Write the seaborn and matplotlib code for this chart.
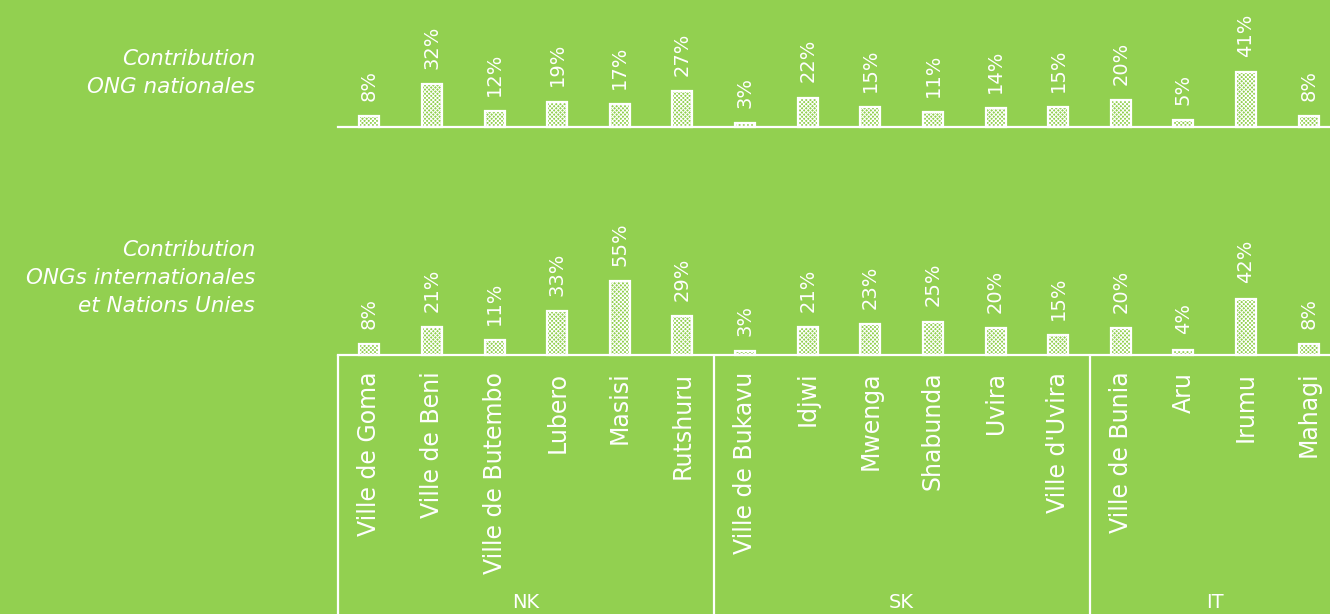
import pandas as pd
import seaborn as sns
import matplotlib.pyplot as plt

# Data
districts = ['Ville de Goma', 'Ville de Beni', 'Ville de Butembo', 'Lubero', 'Masisi', 'Rutshuru',
             'Ville de Bukavu', 'Idjwi', 'Mwenga', 'Shabunda', 'Uvira', "Ville d'Uvira",
             'Ville de Bunia', 'Aru', 'Irumu', 'Mahagi']
provinces = ['NK'] * 6 + ['SK'] * 6 + ['IT'] * 4
ong_nationales = [8, 32, 12, 19, 17, 27, 3, 22, 15, 11, 14, 15, 20, 5, 41, 8]
ong_internationales = [8, 21, 11, 33, 55, 29, 3, 21, 23, 25, 20, 15, 20, 4, 42, 8]
row_titles = ['Contribution\nONG nationales',
              'Contribution\nONGs internationales\net Nations Unies']

df = pd.DataFrame({'district': districts, 'province': provinces,
                   'nat': ong_nationales, 'intl': ong_internationales})

green = '#92D050'
W, H = 1330, 614
px_per_unit = 1.34

sns.set_theme(style='white')
plt.rcParams['font.family'] = ['DejaVu Sans']
plt.rcParams['hatch.linewidth'] = 0.7

fig = plt.figure(figsize=(W / 100, H / 100), dpi=100, facecolor=green)

# axes geometry in pixels
x0, x1 = 338, 1340


def make_axes(bottom_px, top_px, base_px):
    ax = fig.add_axes([x0 / W, bottom_px / H, (x1 - x0) / W, (top_px - bottom_px) / H])
    ax.set_facecolor('none')
    ax.set_ylim(-(base_px - bottom_px) / px_per_unit, (top_px - base_px) / px_per_unit)
    return ax


def draw_bars(ax, col):
    sns.barplot(data=df, x='district', y=col, ax=ax, color=green, saturation=1,
                edgecolor='white', linewidth=1.6, width=0.32, hatch='xxxxxxxx')
    for p in ax.patches:
        p.set_facecolor(green)
    ax.bar_label(ax.containers[0], labels=[f'{v}%' for v in df[col]], padding=11,
                 rotation=90, color='white', fontsize=14)
    ax.set_xlim(-0.5, len(districts) - 0.5)
    for s in ['top', 'left', 'right']:
        ax.spines[s].set_visible(False)
    ax.spines['bottom'].set_position(('data', 0))
    ax.spines['bottom'].set_color('white')
    ax.spines['bottom'].set_linewidth(1.6)
    ax.set_yticks([])
    ax.set_xlabel('')
    ax.set_ylabel('')


# top panel
ax1 = make_axes(430, 614, 487)
draw_bars(ax1, 'nat')
ax1.set_xticks([])

# bottom panel
ax2 = make_axes(0, 430, 259)
draw_bars(ax2, 'intl')
ax2.tick_params(axis='x', length=0, pad=12)
ax2.set_xticks(range(len(districts)))
ax2.set_xticklabels(districts, rotation=90, color='white', fontsize=17)

# province boxes
ymin = ax2.get_ylim()[0]
groups = df.groupby('province', sort=False).apply(lambda g: (g.index.min(), g.index.max()))
for prov, (i0, i1) in groups.items():
    ax2.plot([i0 - 0.5, i0 - 0.5], [ymin, 0], color='white', lw=1.6, clip_on=False)
    ax2.text((i0 + i1) / 2, ymin + 12 / px_per_unit, prov, ha='center', va='center',
             color='white', fontsize=14)

# row titles
fig.text(255 / W, 1 - 73 / H, row_titles[0], ha='right', va='center', color='white',
         fontsize=15.5, style='italic', linespacing=1.52)
fig.text(255 / W, 1 - 278 / H, row_titles[1], ha='right', va='center', color='white',
         fontsize=15.5, style='italic', linespacing=1.52)

fig.savefig('out.png', dpi=100, facecolor=green)
